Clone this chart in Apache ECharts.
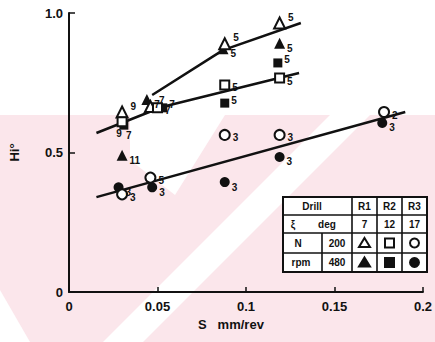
<!DOCTYPE html>
<html>
<head>
<meta charset="utf-8">
<script src="https://cdn.jsdelivr.net/npm/echarts@6/dist/echarts.min.js"></script>
<style>
  html, body { margin: 0; padding: 0; background: #fff; }
  #chart { width: 435px; height: 342px; }
</style>
</head>
<body>
<div id="chart"></div>
<script>
// Feed S (mm/rev) against Hi° for three drills (R1, R2, R3) at two speeds.
// Each point: [S, Hi°, count label]
const xTickValues = [0, 0.05, 0.1, 0.15, 0.2];
const xTickLabels = ['0', '0.05', '0.1', '0.15', '0.2'];
const yTickValues = [0, 0.5, 1.0];
const yTickLabels = ['0', '0.5', '1.0'];

const r1Low  = [[0.030, 0.645, '9'], [0.046, 0.665, '7'], [0.088, 0.890, '5'], [0.119, 0.964, '5']];
const r1High = [[0.030, 0.490, '11'], [0.044, 0.690, '7'], [0.087, 0.872, '5'], [0.119, 0.892, '5']];
const r2Low  = [[0.030, 0.610, '9'], [0.050, 0.660, '7'], [0.088, 0.742, '5'], [0.119, 0.767, '5']];
const r2High = [[0.031, 0.598, '7'], [0.053, 0.660, '7'], [0.088, 0.677, '5'], [0.118, 0.821, '5']];
const r3Low  = [[0.030, 0.350, '3'], [0.046, 0.410, '5'], [0.088, 0.563, '3'], [0.119, 0.563, '3'], [0.178, 0.645, '2']];
const r3High = [[0.028, 0.375, '3'], [0.047, 0.375, '3'], [0.088, 0.394, '3'], [0.119, 0.484, '3'], [0.177, 0.606, '3']];

// Fitted trend lines
const r1Trend = [[0.047, 0.706], [0.087, 0.867], [0.131, 0.964]];
const r2Trend = [[0.0155, 0.570], [0.0525, 0.663], [0.130, 0.785]];
const r3Trend = [[0.0155, 0.340], [0.190, 0.645]];

// Key table contents
const keyHeader = ['Drill', 'R1', 'R2', 'R3'];
const keyAngle = ['ξ', 'deg', '7', '12', '17'];
const keySpeeds = ['200', '480'];

const chart = echarts.init(document.getElementById('chart'), null, { renderer: 'svg' });

const FONT = '"Liberation Sans", Arial, sans-serif';
const ink = '#111';

// firstBelow: put the first point's label underneath (crowded left cluster)
function markerSeries(data, symbol, size, filled, labelOffset, firstBelow) {
  const items = data.map((d, i) => {
    const item = { value: d };
    if (firstBelow && i === 0) {
      item.label = { position: 'bottom', distance: 1, offset: firstBelow };
    }
    return item;
  });
  return {
    type: 'scatter',
    data: items,
    symbol: symbol,
    symbolSize: size,
    z: 5,
    itemStyle: {
      color: filled ? ink : '#fff',
      borderColor: ink,
      borderWidth: filled ? 0 : 2,
      opacity: 1
    },
    label: {
      show: true,
      position: 'right',
      distance: 2,
      offset: labelOffset,
      formatter: p => p.value[2],
      color: ink,
      fontFamily: FONT,
      fontWeight: 'bold',
      fontSize: 10
    },
    emphasis: { disabled: true }
  };
}

function trendSeries(data) {
  return {
    type: 'line',
    data: data,
    symbol: 'none',
    z: 3,
    lineStyle: { color: ink, width: 2.5 },
    emphasis: { disabled: true }
  };
}

// Faint diagonal background banding
const pink = '#fbe6eb';
const bandBg = [
  { type: 'rect', shape: { x: 0, y: 115, width: 435, height: 227 }, style: { fill: pink } },
  { type: 'polygon', shape: { points: [[330, 115], [370, 115], [143, 342], [103, 342]] }, style: { fill: '#fff' } },
  { type: 'polygon', shape: { points: [[130, 115], [225, 115], [175, 195], [130, 160]] }, style: { fill: '#fff' } },
  { type: 'polygon', shape: { points: [[0, 290], [30, 342], [0, 342]] }, style: { fill: '#fff' } }
].map(e => Object.assign(e, { z: -10, silent: true }));

// Key table geometry
const cols = [283, 352, 377, 402, 427];
const rows = [197, 215, 233, 253, 272];
const sub = 322;
const keyEls = [];
keyEls.push({ type: 'rect', shape: { x: cols[0], y: rows[0], width: cols[4] - cols[0], height: rows[4] - rows[0] },
  style: { fill: '#fff', stroke: ink, lineWidth: 2 } });
[1, 2, 3].forEach(i => keyEls.push({ type: 'line', shape: { x1: cols[0], y1: rows[i], x2: cols[4], y2: rows[i] }, style: { stroke: ink, lineWidth: 1.6 } }));
[1, 2, 3].forEach(i => keyEls.push({ type: 'line', shape: { x1: cols[i], y1: rows[0], x2: cols[i], y2: rows[4] }, style: { stroke: ink, lineWidth: 1.6 } }));
keyEls.push({ type: 'line', shape: { x1: sub, y1: rows[2], x2: sub, y2: rows[4] }, style: { stroke: ink, lineWidth: 1.6 } });
function txt(s, x, y) {
  return { type: 'text', x: x, y: y, style: { text: s, fill: ink, font: 'bold 10px ' + FONT, align: 'center', verticalAlign: 'middle' } };
}
const mid = i => (rows[i] + rows[i + 1]) / 2;
const cmid = i => (cols[i] + cols[i + 1]) / 2;
keyEls.push(txt(keyHeader[0], 312, mid(0)));
keyEls.push(txt(keyHeader[1], cmid(1), mid(0)));
keyEls.push(txt(keyHeader[2], cmid(2), mid(0)));
keyEls.push(txt(keyHeader[3], cmid(3), mid(0)));
keyEls.push(txt(keyAngle[0], 293, mid(1)));
keyEls.push(txt(keyAngle[1], 327, mid(1)));
keyEls.push(txt(keyAngle[2], cmid(1), mid(1)));
keyEls.push(txt(keyAngle[3], cmid(2), mid(1)));
keyEls.push(txt(keyAngle[4], cmid(3), mid(1)));
keyEls.push(txt('N', 298, mid(2)));
keyEls.push(txt('rpm', 301, mid(3)));
keyEls.push(txt(keySpeeds[0], (sub + cols[1]) / 2, mid(2)));
keyEls.push(txt(keySpeeds[1], (sub + cols[1]) / 2, mid(3)));
function tri(cx, cy, filled) {
  return { type: 'polygon', shape: { points: [[cx, cy - 5], [cx + 5.5, cy + 4], [cx - 5.5, cy + 4]] },
    style: { fill: filled ? ink : '#fff', stroke: ink, lineWidth: 2 } };
}
function sq(cx, cy, filled) {
  return { type: 'rect', shape: { x: cx - 4.5, y: cy - 4.5, width: 9, height: 9 },
    style: { fill: filled ? ink : '#fff', stroke: ink, lineWidth: 2 } };
}
function circ(cx, cy, filled) {
  return { type: 'circle', shape: { cx: cx, cy: cy, r: 4.5 },
    style: { fill: filled ? ink : '#fff', stroke: ink, lineWidth: 2 } };
}
keyEls.push(tri(cmid(1), mid(2), false), sq(cmid(2), mid(2), false), circ(cmid(3), mid(2), false));
keyEls.push(tri(cmid(1), mid(3), true), sq(cmid(2), mid(3), true), circ(cmid(3), mid(3), true));
keyEls.forEach(e => { e.z = 20; e.silent = true; });

const axisText = { color: ink, fontFamily: FONT, fontWeight: 'bold', fontSize: 13 };

chart.setOption({
  animation: false,
  backgroundColor: '#fff',
  grid: { left: 65, right: 8, top: 13, bottom: 50, containLabel: false },
  xAxis: {
    type: 'value',
    min: 0, max: 0.2, interval: 0.05,
    name: 'S   mm/rev',
    nameLocation: 'middle',
    nameGap: 26,
    nameTextStyle: Object.assign({}, axisText, { padding: [0, 30, 0, 0] }),
    axisLine: { show: true, lineStyle: { color: ink, width: 2 } },
    axisTick: { show: true, inside: true, length: 5, lineStyle: { color: ink, width: 1.5 } },
    splitLine: { show: false },
    axisLabel: Object.assign({}, axisText, {
      margin: 8,
      formatter: v => { const i = xTickValues.findIndex(t => Math.abs(t - v) < 1e-9); return i >= 0 ? xTickLabels[i] : ''; }
    })
  },
  yAxis: {
    type: 'value',
    min: 0, max: 1, interval: 0.5,
    name: 'Hi°',
    nameLocation: 'middle',
    nameRotate: 90,
    nameGap: 48,
    nameTextStyle: axisText,
    axisLine: { show: true, lineStyle: { color: ink, width: 2 } },
    axisTick: { show: true, inside: true, length: 6, lineStyle: { color: ink, width: 1.5 } },
    splitLine: { show: false },
    axisLabel: Object.assign({}, axisText, {
      margin: 6,
      formatter: v => { const i = yTickValues.findIndex(t => Math.abs(t - v) < 1e-9); return i >= 0 ? yTickLabels[i] : ''; }
    })
  },
  graphic: { elements: bandBg.concat(keyEls) },
  series: [
    trendSeries(r1Trend),
    trendSeries(r2Trend),
    trendSeries(r3Trend),
    markerSeries(r1High, 'triangle', 11, true, [0, 5]),
    markerSeries(r1Low, 'triangle', 11, false, [0, -6]),
    markerSeries(r2High, 'rect', 9, true, [0, -3], [5, 0]),
    markerSeries(r2Low, 'rect', 9, false, [0, 3], [-3, 0]),
    markerSeries(r3High, 'circle', 10, true, [0, 5]),
    markerSeries(r3Low, 'circle', 10, false, [0, 3])
  ]
});
</script>
</body>
</html>
